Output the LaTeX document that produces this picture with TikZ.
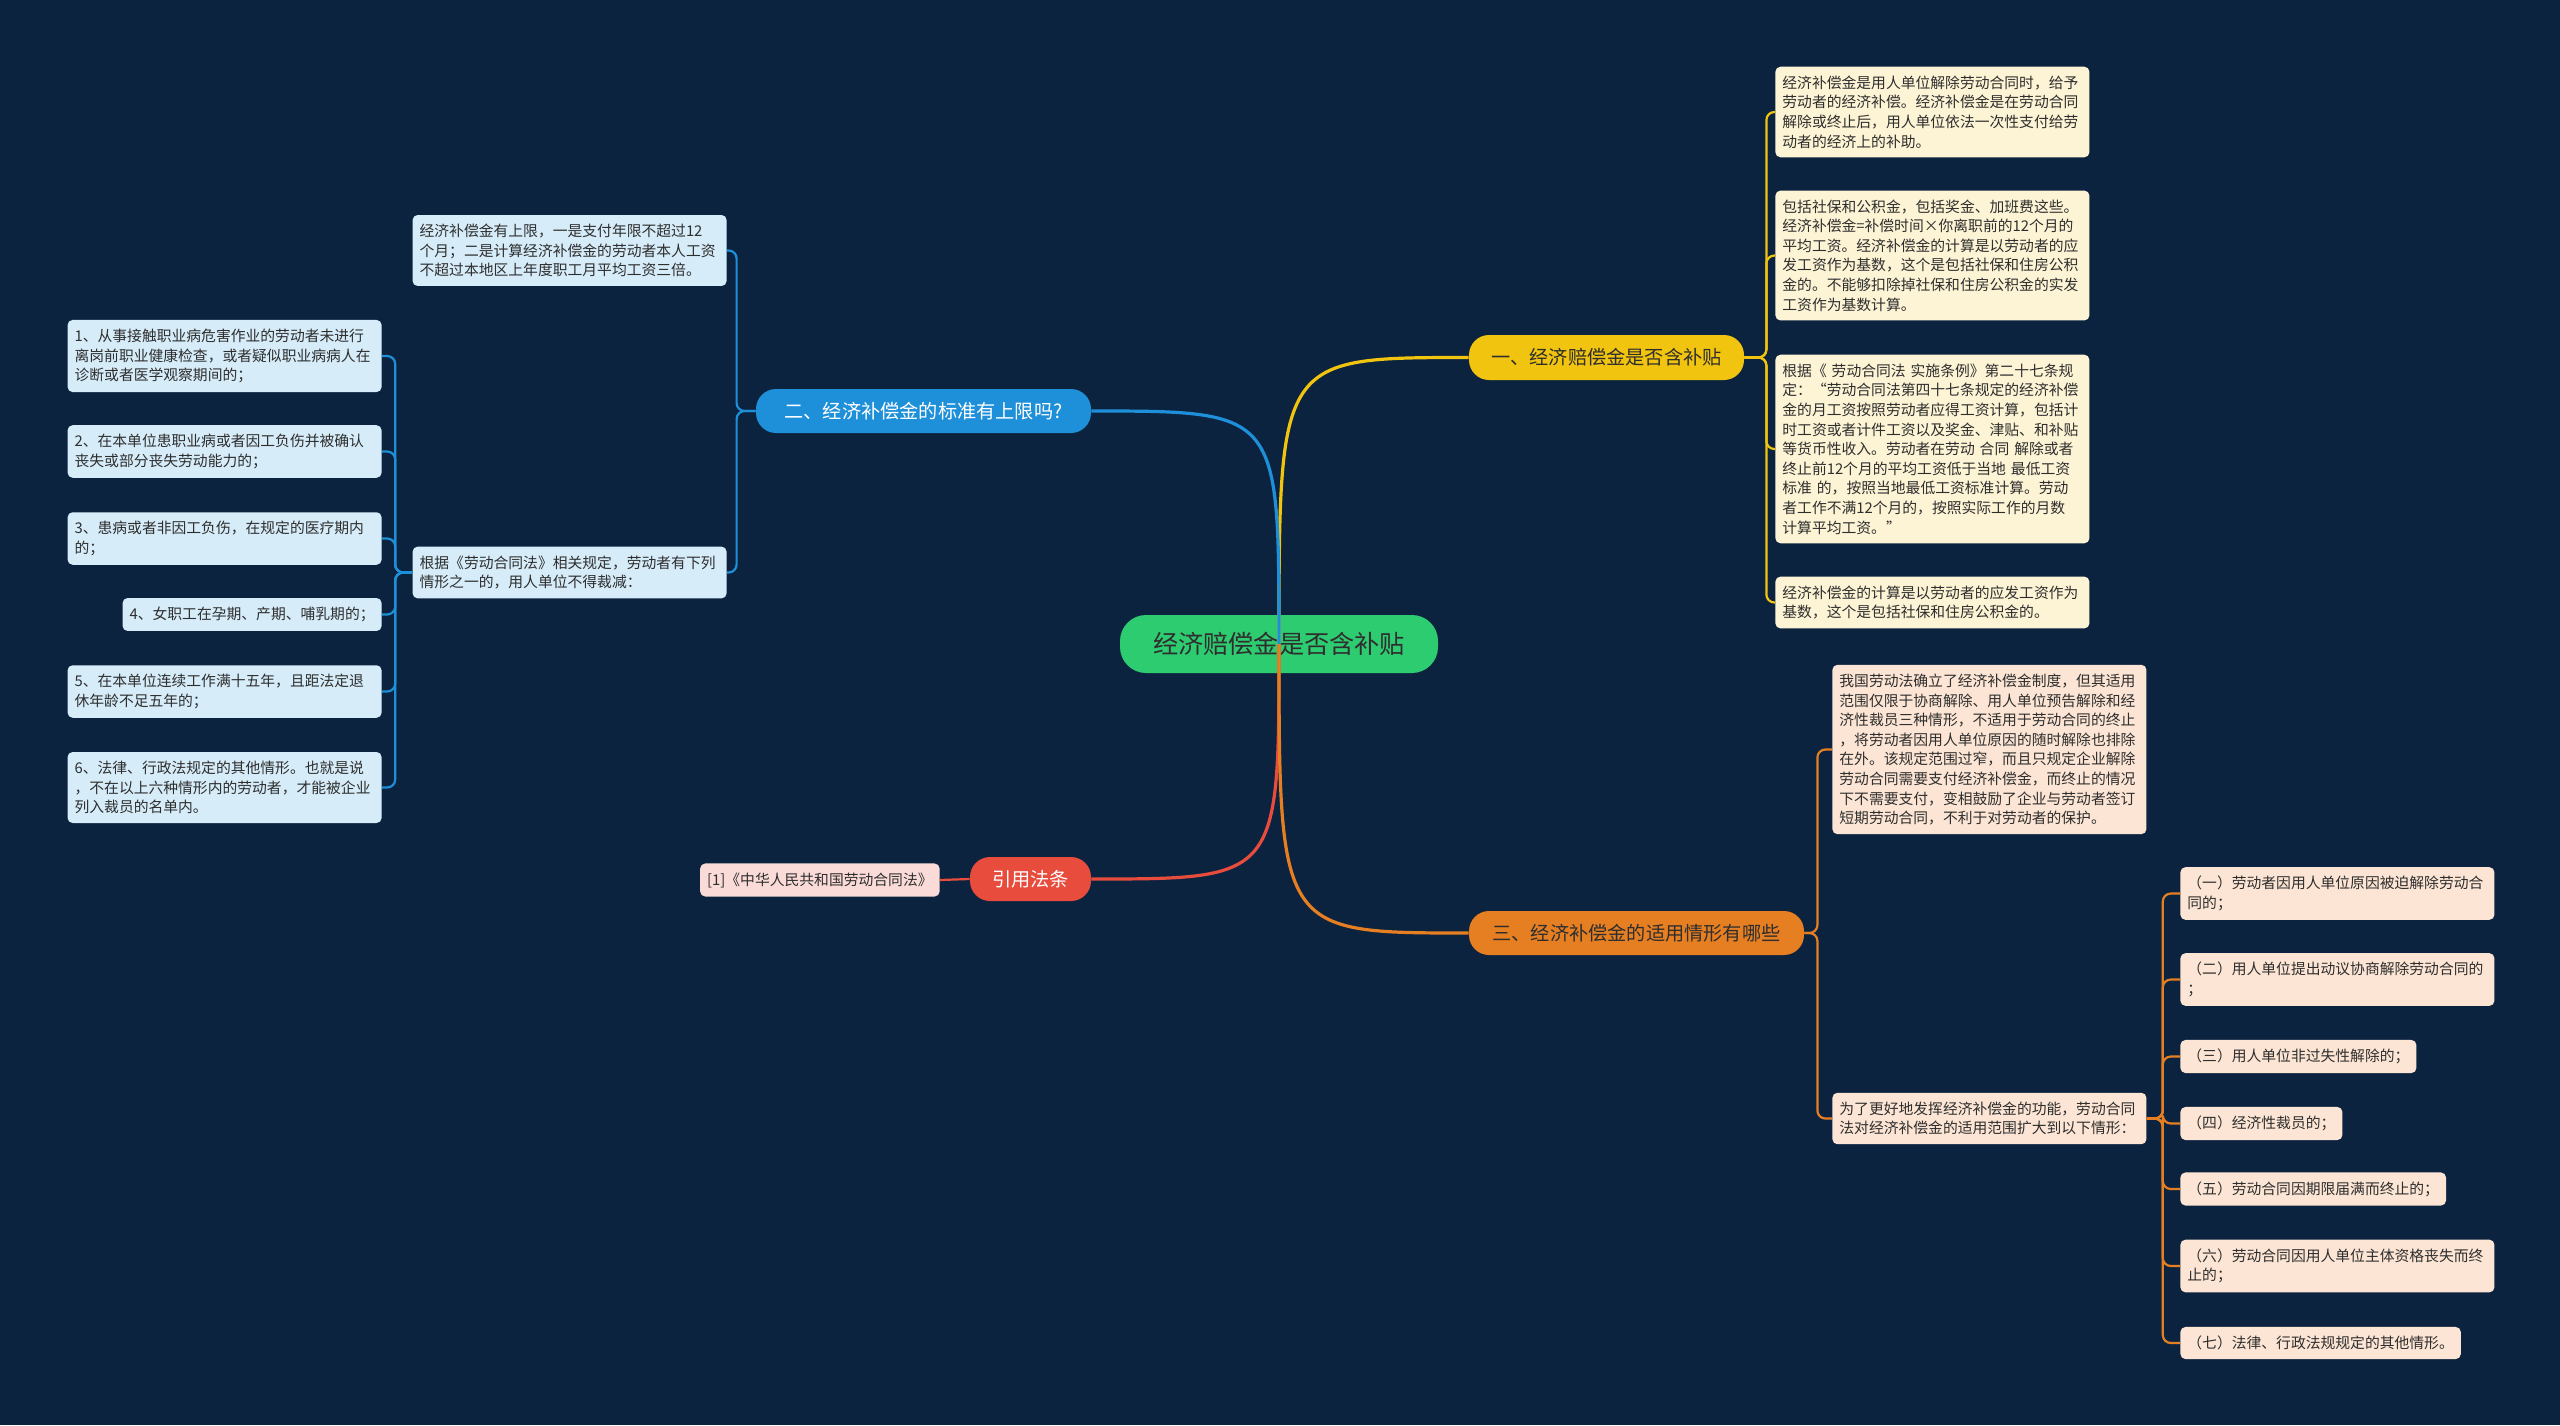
\documentclass[tikz,border=0pt]{standalone}
\usepackage{fontspec}
\setmainfont{Noto Sans CJK SC}
\definecolor{bgnavy}{HTML}{0C2340}
\definecolor{rootgreen}{HTML}{2ECC71}
\definecolor{byellow}{HTML}{F1C40F}
\definecolor{bblue}{HTML}{1E8FD9}
\definecolor{bred}{HTML}{E74C3C}
\definecolor{borange}{HTML}{E67E22}
\definecolor{cream}{HTML}{FDF4D5}
\definecolor{peach}{HTML}{FCE5D4}
\definecolor{paleblue}{HTML}{D6ECF9}
\definecolor{palered}{HTML}{FADBD8}
\definecolor{darktext}{HTML}{2E2E2E}
\tikzset{%
    pill/.style={rounded corners=10pt, inner sep=0pt, font=\fontsize{9.6}{11}\selectfont},
    rootbox/.style={pill, rounded corners=13pt, fill=rootgreen, text=darktext, font=\fontsize{12.6}{14}\selectfont},
    leafbox/.style={rounded corners=2.5pt, inner xsep=3.5pt, inner ysep=4.5pt, align=left, text=darktext, font=\fontsize{7.4}{9.8}\selectfont},
    wide/.style={text width=150pt},
    rootlink/.style={line width=1.6pt},
    leaflink/.style={line width=1.1pt, rounded corners=4pt},
    %leafshadow/.style={drop shadow},
}
\begin{document}
\begin{tikzpicture}[x=0.5pt, y=-0.5pt]

	% background
	\fill[bgnavy] (0,0) rectangle (2560,1425);
	\useasboundingbox (0,0) rectangle (2560,1425);

	% root and main branches
	\node[rootbox, minimum width=159pt, minimum height=29pt] (root) at (1279,644) {经济赔偿金是否含补贴};
	\node[pill, fill=byellow, text=darktext, minimum width=137.5pt, minimum height=22.5pt] (subsidy) at (1606.5,357.5) {一、经济赔偿金是否含补贴};
	\node[pill, fill=bblue, text=white, minimum width=167.5pt, minimum height=22pt] (upperlimit) at (923.5,411) {二、经济补偿金的标准有上限吗?};
	\node[pill, fill=bred, text=white, minimum width=60.5pt, minimum height=22pt] (lawref) at (1030.5,879) {引用法条};
	\node[pill, fill=borange, text=darktext, minimum width=167.5pt, minimum height=22pt] (cases) at (1636.5,933) {三、经济补偿金的适用情形有哪些};

	% yellow leaves
	\node[leafbox, wide, fill=cream, anchor=west] (sub1) at (1775,112) {经济补偿金是用人单位解除劳动合同时，给予\\劳动者的经济补偿。经济补偿金是在劳动合同\\解除或终止后，用人单位依法一次性支付给劳\\动者的经济上的补助。};
	\node[leafbox, wide, fill=cream, anchor=west] (sub2) at (1775,255.5) {包括社保和公积金，包括奖金、加班费这些。\\经济补偿金=补偿时间×你离职前的12个月的\\平均工资。经济补偿金的计算是以劳动者的应\\发工资作为基数，这个是包括社保和住房公积\\金的。不能够扣除掉社保和住房公积金的实发\\工资作为基数计算。};
	\node[leafbox, wide, fill=cream, anchor=west] (sub3) at (1775,449) {根据《 劳动合同法 实施条例》第二十七条规\\定：“劳动合同法第四十七条规定的经济补偿\\金的月工资按照劳动者应得工资计算，包括计\\时工资或者计件工资以及奖金、津贴、和补贴\\等货币性收入。劳动者在劳动 合同 解除或者\\终止前12个月的平均工资低于当地 最低工资\\标准 的，按照当地最低工资标准计算。劳动\\者工作不满12个月的，按照实际工作的月数\\计算平均工资。”};
	\node[leafbox, wide, fill=cream, anchor=west] (sub4) at (1775,602.5) {经济补偿金的计算是以劳动者的应发工资作为\\基数，这个是包括社保和住房公积金的。};

	% blue leaves
	\node[leafbox, wide, fill=paleblue, anchor=east] (lima) at (727,250.5) {经济补偿金有上限，一是支付年限不超过12\\个月；二是计算经济补偿金的劳动者本人工资\\不超过本地区上年度职工月平均工资三倍。};
	\node[leafbox, wide, fill=paleblue, anchor=east] (limb) at (727,572.5) {根据《劳动合同法》相关规定，劳动者有下列\\情形之一的，用人单位不得裁减：};
	\node[leafbox, wide, fill=paleblue, anchor=east] (bar1) at (382,356) {1、从事接触职业病危害作业的劳动者未进行\\离岗前职业健康检查，或者疑似职业病病人在\\诊断或者医学观察期间的；};
	\node[leafbox, wide, fill=paleblue, anchor=east] (bar2) at (382,451.5) {2、在本单位患职业病或者因工负伤并被确认\\丧失或部分丧失劳动能力的；};
	\node[leafbox, wide, fill=paleblue, anchor=east] (bar3) at (382,538.5) {3、患病或者非因工负伤，在规定的医疗期内\\的；};
	\node[leafbox, fill=paleblue, anchor=east] (bar4) at (382,614.5) {4、女职工在孕期、产期、哺乳期的；};
	\node[leafbox, wide, fill=paleblue, anchor=east] (bar5) at (382,691.5) {5、在本单位连续工作满十五年，且距法定退\\休年龄不足五年的；};
	\node[leafbox, wide, fill=paleblue, anchor=east] (bar6) at (382,787.5) {6、法律、行政法规定的其他情形。也就是说\\，不在以上六种情形内的劳动者，才能被企业\\列入裁员的名单内。};

	% red leaf
	\node[leafbox, fill=palered, anchor=east] (ref1) at (940,880) {[1]《中华人民共和国劳动合同法》};

	% orange leaves
	\node[leafbox, wide, fill=peach, anchor=west] (case1) at (1832,749.5) {我国劳动法确立了经济补偿金制度，但其适用\\范围仅限于协商解除、用人单位预告解除和经\\济性裁员三种情形，不适用于劳动合同的终止\\，将劳动者因用人单位原因的随时解除也排除\\在外。该规定范围过窄，而且只规定企业解除\\劳动合同需要支付经济补偿金，而终止的情况\\下不需要支付，变相鼓励了企业与劳动者签订\\短期劳动合同，不利于对劳动者的保护。};
	\node[leafbox, wide, fill=peach, anchor=west] (case2) at (1832,1118.5) {为了更好地发挥经济补偿金的功能，劳动合同\\法对经济补偿金的适用范围扩大到以下情形：};
	\node[leafbox, wide, fill=peach, anchor=west] (item1) at (2180,893.5) {（一）劳动者因用人单位原因被迫解除劳动合\\同的；};
	\node[leafbox, wide, fill=peach, anchor=west] (item2) at (2180,979.5) {（二）用人单位提出动议协商解除劳动合同的\\；};
	\node[leafbox, fill=peach, anchor=west] (item3) at (2180,1056.5) {（三）用人单位非过失性解除的；};
	\node[leafbox, fill=peach, anchor=west] (item4) at (2180,1123.5) {（四）经济性裁员的；};
	\node[leafbox, fill=peach, anchor=west] (item5) at (2180,1189) {（五）劳动合同因期限届满而终止的；};
	\node[leafbox, wide, fill=peach, anchor=west] (item6) at (2180,1266) {（六）劳动合同因用人单位主体资格丧失而终\\止的；};
	\node[leafbox, fill=peach, anchor=west] (item7) at (2180,1343) {（七）法律、行政法规规定的其他情形。};

	% root links
	\draw[rootlink, byellow] (root.center) .. controls (root.center |- subsidy.west) .. (subsidy.west);
	\draw[rootlink, bblue] (root.center) .. controls (root.center |- upperlimit.east) .. (upperlimit.east);
	\draw[rootlink, bred] (root.center) .. controls (root.center |- lawref.east) .. (lawref.east);
	\draw[rootlink, borange] (root.center) .. controls (root.center |- cases.west) .. (cases.west);

	% branch links
	\foreach \leaf in {sub1,sub2,sub3,sub4}
		\draw[leaflink, byellow] (subsidy.east) -- ++(22,0) |- (\leaf.west);
	\foreach \leaf in {lima,limb}
		\draw[leaflink, bblue] (upperlimit.west) -- ++(-19,0) |- (\leaf.east);
	\foreach \i in {1,...,6}
		\draw[leaflink, bblue] (limb.west) -- ++(-17,0) |- (bar\i.east);
	\draw[leaflink, bred] (lawref.west) -- (ref1.east);
	\foreach \leaf in {case1,case2}
		\draw[leaflink, borange] (cases.east) -- ++(13,0) |- (\leaf.west);
	\foreach \i in {1,...,7}
		\draw[leaflink, borange] (case2.east) -- ++(16,0) |- (item\i.west);

\end{tikzpicture}
\end{document}
